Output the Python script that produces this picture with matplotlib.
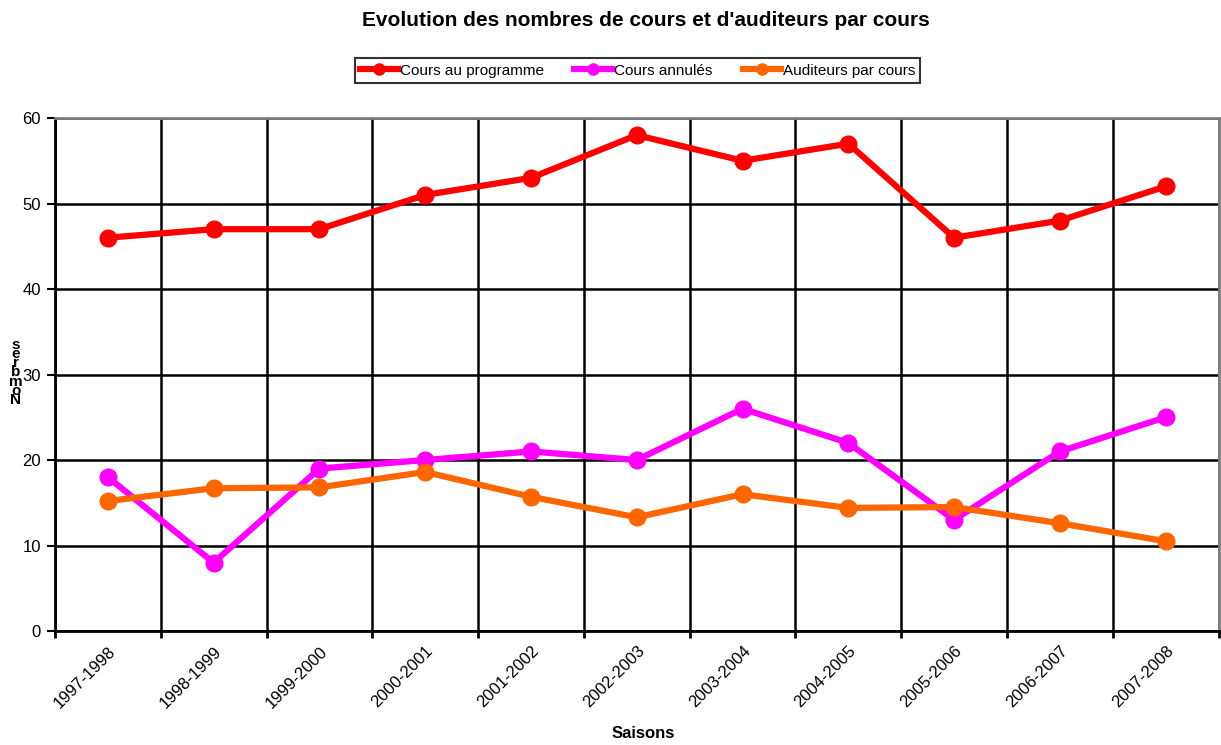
import numpy as np
import matplotlib.pyplot as plt
from matplotlib.ticker import FixedLocator

saisons = ["1997-1998", "1998-1999", "1999-2000", "2000-2001", "2001-2002", "2002-2003",
           "2003-2004", "2004-2005", "2005-2006", "2006-2007", "2007-2008"]
cours_programme = [46, 47, 47, 51, 53, 58, 55, 57, 46, 48, 52]
cours_annules = [18, 8, 19, 20, 21, 20, 26, 22, 13, 21, 25]
auditeurs_par_cours = [15.2, 16.7, 16.8, 18.6, 15.7, 13.3, 16.0, 14.4, 14.5, 12.6, 10.5]

plt.rcParams["font.family"] = ["Liberation Sans", "DejaVu Sans"]

fig = plt.figure(figsize=(12.21, 7.45), dpi=100)
ax = fig.add_axes([0.045, 0.153, 0.953, 0.6886])

x = np.arange(len(saisons))
series = [(cours_programme, "#FF0000", "Cours au programme"),
          (cours_annules, "#FF00FF", "Cours annulés"),
          (auditeurs_par_cours, "#FF6600", "Auditeurs par cours")]
for vals, col, lab in series:
    ax.plot(x, vals, color=col, lw=4.5, marker="o", ms=12, label=lab, zorder=3)

ax.set_xlim(-0.5, len(saisons) - 0.5)
ax.set_ylim(0, 60)
ax.set_yticks(np.arange(0, 61, 10))
ax.xaxis.set_major_locator(FixedLocator(np.arange(-0.5, len(saisons), 1.0)))
ax.xaxis.set_minor_locator(FixedLocator(x))
ax.set_xticklabels([])
ax.set_xticklabels(saisons, minor=True, rotation=45, ha="right", rotation_mode="anchor", fontsize=12)
ax.tick_params(axis="x", which="minor", length=0, pad=9)
ax.tick_params(axis="x", which="major", length=5, width=2, direction="out")
ax.tick_params(axis="y", length=6, width=1.5, labelsize=12, pad=4)
ax.grid(True, which="major", color="black", lw=1.8, zorder=1)

for s in ["left", "bottom"]:
    ax.spines[s].set_linewidth(2)
    ax.spines[s].set_color("black")
for s in ["top", "right"]:
    ax.spines[s].set_linewidth(2)
    ax.spines[s].set_color("#808080")

# axis titles placed by hand, like the original export
fig.text(0.527, 0.016, "Saisons", fontweight="bold", fontsize=12, ha="center", va="center")
fig.text(0.013, 0.50, "s\ne\nr\nb\nm\no\nN", fontweight="bold", fontsize=11,
         ha="center", va="center", linespacing=0.55)

fig.suptitle("Evolution des nombres de cours et d'auditeurs par cours",
             fontweight="bold", fontsize=15, x=0.529, y=0.985)
leg = fig.legend(loc="center", bbox_to_anchor=(0.522, 0.905), ncol=3, fontsize=11,
                 frameon=True, fancybox=False, handlelength=2.5, columnspacing=2.0,
                 handletextpad=0.1, borderpad=0.35)
leg.get_frame().set_edgecolor("black")
leg.get_frame().set_linewidth(1.5)
for h in leg.get_lines():
    h.set_markersize(8)

fig.savefig("out.png", dpi=100)
